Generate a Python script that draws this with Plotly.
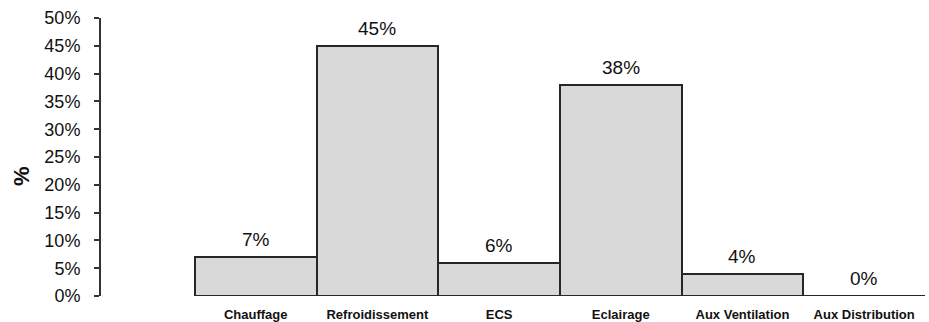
import plotly.graph_objects as go

# Energy consumption breakdown by end use (share of total, %)
categories = ["Chauffage", "Refroidissement", "ECS", "Eclairage", "Aux Ventilation", "Aux Distribution"]
shares = [7, 45, 6, 38, 4, 0]
y_ticks = [0, 5, 10, 15, 20, 25, 30, 35, 40, 45, 50]

positions = list(range(len(categories)))
font_family = "Liberation Sans, Arial, sans-serif"

fig = go.Figure()
fig.add_trace(go.Bar(
    x=positions,
    y=shares,
    width=1.0,
    marker=dict(color="#d9d9d9", line=dict(color="#262626", width=2)),
    hoverinfo="skip",
))

# Value labels above each bar
for xi, v in zip(positions, shares):
    fig.add_annotation(
        x=xi, y=v, xref="x", yref="y",
        text=f"{v}%", showarrow=False,
        yanchor="bottom", yshift=5,
        font=dict(family=font_family, size=19, color="#111111"),
    )

# Zero-height bars still show their outline along the baseline
for xi, v in zip(positions, shares):
    if v == 0:
        fig.add_shape(
            type="line", xref="x", yref="y",
            x0=xi - 0.5, x1=xi + 0.5, y0=0, y1=0,
            line=dict(color="#262626", width=2),
        )

# Rotated y-axis title
fig.add_annotation(
    x=0, y=0.43, xref="paper", yref="paper",
    xshift=-94, text="<b>%</b>", textangle=-90, showarrow=False,
    font=dict(family=font_family, size=22, color="#111111"),
)

fig.update_layout(
    width=929, height=322,
    margin=dict(l=101, r=4, t=18, b=26),
    paper_bgcolor="white", plot_bgcolor="white",
    showlegend=False,
    bargap=0,
    xaxis=dict(
        range=[-1.271, 5.5],
        tickvals=positions, ticktext=[f"<b>{c}</b>" for c in categories],
        tickfont=dict(family=font_family, size=13, color="#111111"),
        showgrid=False, zeroline=False, showline=False,
        ticks="outside", ticklen=0, ticklabelstandoff=6,
        automargin=False,
    ),
    yaxis=dict(
        range=[0, 50],
        tickvals=y_ticks, ticktext=[f"{t}%" for t in y_ticks],
        tickfont=dict(family=font_family, size=18, color="#111111"),
        showgrid=False, zeroline=False,
        showline=True, linecolor="#333333", linewidth=2,
        ticks="outside", ticklen=5, tickwidth=2, tickcolor="#333333",
        ticklabelstandoff=10,
        automargin=False,
    ),
)

fig.write_html("out.html")
